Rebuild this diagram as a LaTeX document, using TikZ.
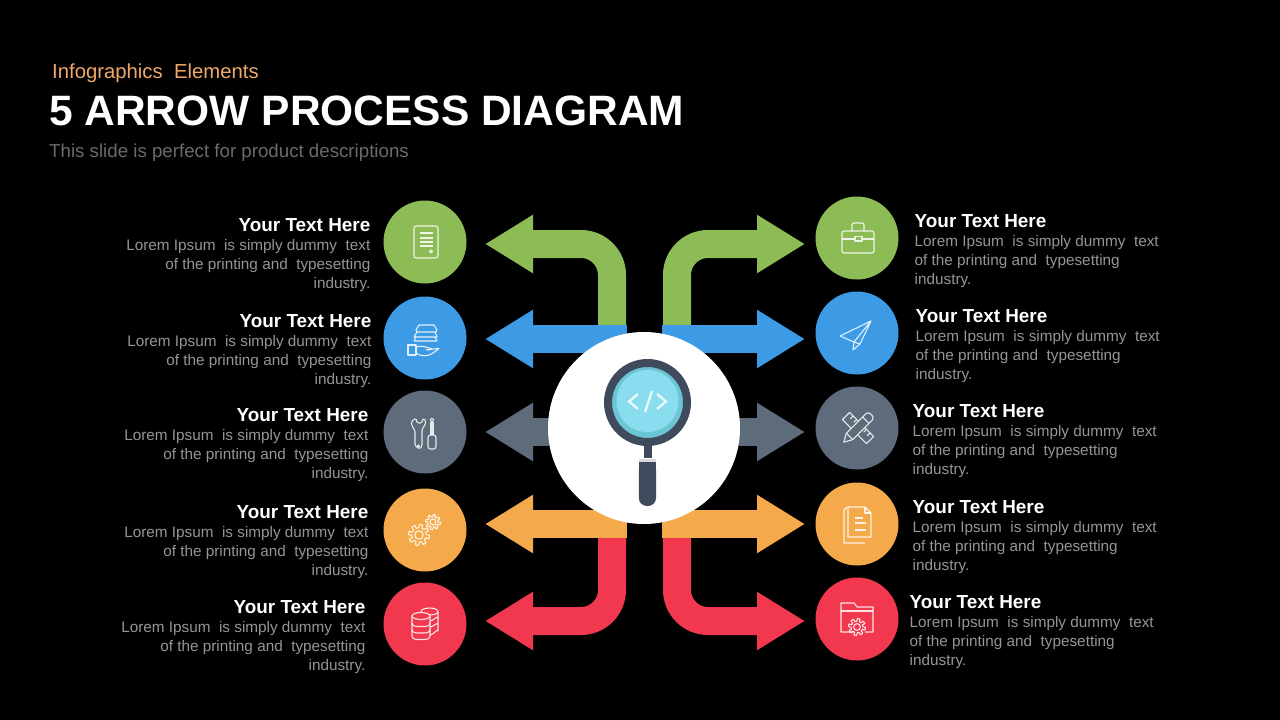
\documentclass[tikz,border=0pt]{standalone}
\usepackage{fontspec}
\setmainfont{Liberation Sans}
\usetikzlibrary{arrows.meta,positioning}
\definecolor{cgreen}{HTML}{8DBB55}
\definecolor{cblue}{HTML}{3D9BE6}
\definecolor{cslate}{HTML}{5D6B7A}
\definecolor{corange}{HTML}{F4A94A}
\definecolor{cred}{HTML}{F2384F}
\definecolor{cdark}{HTML}{3F4A5C}
\definecolor{cbody}{HTML}{959595}
\newcommand{\gearicon}[3]{\draw[iconline,shift={(#1,#2)}] plot[domain=0:360,samples=121] ({\x}:{#3*(.84+.16*sign(sin(8*\x)))}) -- cycle;
\draw[iconline] (#1,#2) circle[radius=.4*#3];}
\newcommand{\blurb}{{\fontsize{18.9}{21}\selectfont\bfseries\color{white}Your Text Here}\\Lorem Ipsum\ \ is simply dummy\ \ text\\of the printing and\ \ typesetting\\industry.}
\tikzset{
  leaf/.style={circle,minimum size=83pt,inner sep=0pt,outer sep=0pt,fill=#1},
  flow/.style={line width=28pt,draw=#1,rounded corners=31pt,-{Triangle[length=48pt,width=55pt]}},
  iconline/.style={draw=white,draw opacity=.85,line width=1.1pt,line join=round},
  notel/.style={align=right,text=cbody,inner sep=0pt,font=\fontsize{15.3}{19}\selectfont,yshift=-13.5pt},
  noter/.style={align=left,text=cbody,inner sep=0pt,font=\fontsize{15.3}{19}\selectfont,yshift=-13.5pt},
}
\begin{document}
\begin{tikzpicture}[x=1pt,y=-1pt]
\useasboundingbox[fill=black] (0,0) rectangle (1280,720);
% heading
\node (kicker) [anchor=base west,inner sep=0pt,text={rgb,255:red,240;green,168;blue,104},font=\fontsize{20.3}{22}\selectfont] at (52,78) {Infographics\ \ Elements};
\node (title) [anchor=base west,inner sep=0pt,text=white,font=\fontsize{42.5}{46}\selectfont\bfseries] at (49,125) {5 ARROW PROCESS DIAGRAM};
\node (strap) [anchor=base west,inner sep=0pt,text=black!58,font=\fontsize{18.7}{22}\selectfont] at (49,157) {This slide is perfect for product descriptions};
% circles
\node (LA) [leaf=cgreen] at (425,242) {};
\node (LB) [leaf=cblue,below=13pt of LA] {};
\node (LC) [leaf=cslate,below=11pt of LB] {};
\node (LD) [leaf=corange,below=15pt of LC] {};
\node (LE) [leaf=cred,below=11pt of LD] {};
\node (RA) [leaf=cgreen] at (857,238) {};
\node (RB) [leaf=cblue,below=12pt of RA] {};
\node (RC) [leaf=cslate,below=12pt of RB] {};
\node (RD) [leaf=corange,below=13pt of RC] {};
\node (RE) [leaf=cred,below=12pt of RD] {};
% texts
\node (TLA) [notel,left=13pt of LA] {\blurb};
\node (TLB) [notel,left=12pt of LB,yshift=.5pt] {\blurb};
\node (TLC) [notel,left=15pt of LC] {\blurb};
\node (TLD) [notel,left=15pt of LD,yshift=1pt] {\blurb};
\node (TLE) [notel,left=18pt of LE] {\blurb};
\node (TRA) [noter,right=16pt of RA] {\blurb};
\node (TRB) [noter,right=17pt of RB] {\blurb};
\node (TRC) [noter,right=14pt of RC] {\blurb};
\node (TRD) [noter,right=14pt of RD] {\blurb};
\node (TRE) [noter,right=11pt of RE] {\blurb};
% arrow ends
\coordinate (SLA) at (612,325); \coordinate (ELA) at (485,244);
\coordinate (SLB) at (627,339); \coordinate (ELB) at (485,339);
\coordinate (SLC) at (560,432); \coordinate (ELC) at (485,432);
\coordinate (SLD) at (627,524); \coordinate (ELD) at (485,524);
\coordinate (SLE) at (612,538); \coordinate (ELE) at (485,621);
\coordinate (SRA) at (677,325); \coordinate (ERA) at (805,244);
\coordinate (SRB) at (662,339); \coordinate (ERB) at (805,339);
\coordinate (SRC) at (730,432); \coordinate (ERC) at (805,432);
\coordinate (SRD) at (662,524); \coordinate (ERD) at (805,524);
\coordinate (SRE) at (677,538); \coordinate (ERE) at (805,621);
\draw[flow=cgreen] (SLA) |- (ELA);
\draw[flow=cgreen] (SRA) |- (ERA);
\draw[flow=cred] (SLE) |- (ELE);
\draw[flow=cred] (SRE) |- (ERE);
\foreach \n/\c in {LB/cblue,RB/cblue,LC/cslate,RC/cslate,LD/corange,RD/corange}
  \draw[flow=\c] (S\n) -- (E\n);
% middle
\node (hub) [circle,minimum size=192pt,inner sep=0pt,fill=white] at (644,428) {};
\node (lens) [circle,minimum size=79pt,inner sep=0pt,draw=cdark,line width=8pt,fill={rgb,255:red,108;green,197;blue,213}] at (647.5,402.5) {};
\node (glass) [circle,minimum size=62pt,inner sep=0pt,fill={rgb,255:red,138;green,221;blue,238}] at (647.5,401) {};
\node (neck) [rectangle,minimum width=8pt,minimum height=13pt,inner sep=0pt,fill=cdark,below=-1pt of lens] {};
\node (collar) [rectangle,minimum width=17pt,minimum height=3pt,inner sep=0pt,fill=black!15,below=0pt of neck] {};
\fill[cdark,rounded corners=8pt] (collar.south west) rectangle (656,506);
\fill[cdark] (collar.south west) rectangle (656,470);
\draw[white,line width=2.2pt,draw opacity=.85] (638,394) -- (629,401.5) -- (638,409) (652,391) -- (645,412) (657,394) -- (666,401.5) -- (657,409);
% icons
\begin{scope}[shift={(LA)}]
\draw[iconline,rounded corners=2pt] (-11,-16) rectangle (13,16);
\draw[iconline,line width=1.5pt] (-5,-9) -- (8,-9) (-5,-4) -- (8,-4) (-5,0) -- (8,0) (-5,4) -- (8,4);
\draw[iconline] (6,9.5) circle[radius=1.5];
\end{scope}
\begin{scope}[shift={(LB)}]
\draw[iconline] (-8,-6) -- (-9,-8) -- (-6,-13) -- (9,-13) -- (12,-8) -- (11,-6) -- cycle;
\draw[iconline] (-8,-6) -- (-11,-1) -- (12,-1) -- (10,-6);
\draw[iconline] (-11,3) -- (12,3) (-9,-1) -- (-11,3) (10,-1) -- (12,3);
\draw[iconline] (-17,7) rectangle (-9,17);
\draw[iconline,rounded corners=2pt] (-9,9) -- (-2,8) -- (3,10) -- (8,11) -- (1,12) (3,12) -- (15,10) -- (5,17) -- (-3,18) -- (-9,15);
\end{scope}
\begin{scope}[shift={(LC)}]
\draw[iconline,rounded corners=1.5pt] (-9,-14) -- (-14,-10) -- (-12,-4) -- (-10,-2) -- (-10,14) -- (-5,17) -- (-3,14) -- (-3,-3) -- (0,-7) -- (1,-11) -- (-2,-14) -- (-3,-9) -- (-8,-9) -- cycle;
\draw[iconline] (-6.5,14) circle[radius=1];
\draw[iconline] (7,-12) circle[radius=1.8];
\draw[iconline] (6,-10) -- (6,3) (8,-10) -- (8,3);
\draw[iconline,rounded corners=2.5pt] (3,3) rectangle (11,17);
\end{scope}
\begin{scope}[shift={(LD)}]
\gearicon{-6}{5}{10.5}
\gearicon{8}{-8}{7.5}
\end{scope}
\begin{scope}[shift={(LE)}]
\draw[iconline] (4.5,-12.5) ellipse[x radius=8.5,y radius=3.5];
\draw[iconline] (13,-12.5) -- (13,7) to[out=90,in=0] (5,11);
\draw[iconline] (5,-3) to[out=0,in=90] (13,-6) (5,3) to[out=0,in=90] (13,0.5);
\draw[iconline,fill=cred] (-13,-8) -- (-13,12) to[out=-90,in=180] (-4,15.5) to[out=0,in=-90] (5,12) -- (5,-8) -- cycle;
\draw[iconline,fill=cred] (-4,-8) ellipse[x radius=9,y radius=3.5];
\draw[iconline] (-13,-1) to[out=-90,in=180] (-4,2.5) to[out=0,in=-90] (5,-1);
\draw[iconline] (-13,5.5) to[out=-90,in=180] (-4,9) to[out=0,in=-90] (5,5.5);
\end{scope}
\begin{scope}[shift={(RA)}]
\draw[iconline,rounded corners=2pt] (-15,-7) rectangle (17,15);
\draw[iconline] (-15,1) -- (-2,1) (5,1) -- (17,1);
\draw[iconline] (-2,-1.5) rectangle (5,3);
\draw[iconline,rounded corners=2pt] (-5,-7) -- (-5,-15) -- (7,-15) -- (7,-7);
\end{scope}
\begin{scope}[shift={(RB)}]
\draw[iconline] (14,-12) -- (-17,3) -- (-3,9) -- (14,-12) -- (3,11) -- (-3,9) -- (-4,17) -- (3,11);
\end{scope}
\begin{scope}[shift={(RC)},xshift=1pt]
\draw[iconline,rotate=-45] (-17,-5) rectangle (17,5);
\draw[iconline,rotate=-45] (-12,-5) -- (-12,-1) (-7,-5) -- (-7,-1) (7,-5) -- (7,-1) (12,-5) -- (12,-1);
\draw[iconline,fill=cslate,rotate=45] (-12,-4.5) -- (16,-4.5) to[out=0,in=90] (19,0) to[out=-90,in=0] (16,4.5) -- (-12,4.5) -- (-20,0) -- cycle;
\draw[iconline,rotate=45] (-12,-4.5) -- (-12,4.5) (11,-4.5) -- (11,4.5);
\end{scope}
\begin{scope}[shift={(RD)}]
\draw[iconline] (-13,-14) -- (-13,19) -- (8,19) (-10,-17) -- (-13,-14);
\draw[iconline] (-9,-17) -- (8,-17) -- (14,-11) -- (14,13) -- (-9,13) -- cycle;
\draw[iconline] (8,-17) -- (8,-11) -- (14,-11);
\draw[iconline,line width=1.5pt] (-2,-6) -- (6,-6) (-2,-1) -- (9,-1) (-2,6) -- (9,6);
\end{scope}
\begin{scope}[shift={(RE)}]
\draw[iconline] (-4,13) -- (-16,13) -- (-16,-16) -- (-3,-16) -- (0,-12) -- (16,-12) -- (16,13) -- (8,13);
\draw[iconline] (-16,-8) -- (16,-8);
\gearicon{0}{8}{8.5}
\end{scope}
\end{tikzpicture}
\end{document}
